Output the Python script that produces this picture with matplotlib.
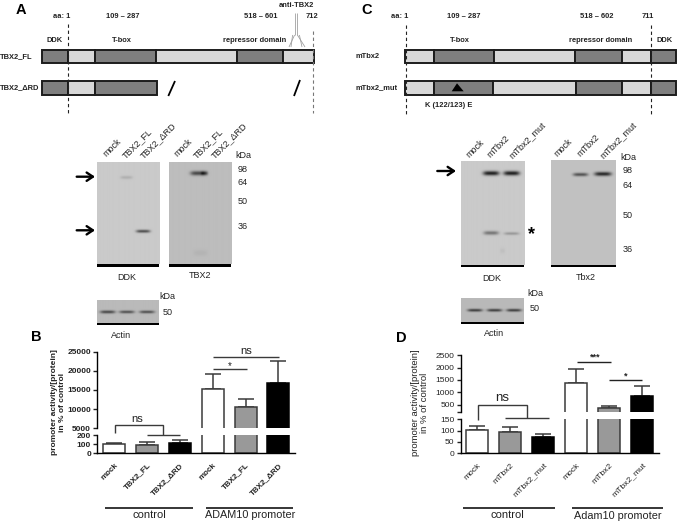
import numpy as np
import matplotlib
matplotlib.use("Agg")
import matplotlib.pyplot as plt
from matplotlib.patches import Rectangle, Polygon

W, H = 677, 522

# bar data, panel B
b_labels = ["mock", "TBX2_FL", "TBX2_\u0394RD", "mock", "TBX2_FL", "TBX2_\u0394RD"]
b_values = [100, 95, 110, 15200, 10500, 16700]
b_errors = [18, 27, 40, 3900, 2100, 6000]
b_ticks_top = [5000, 10000, 15000, 20000, 25000]
b_ticks_low = [0, 100, 200]

# bar data, panel D
d_labels = ["mock", "mTbx2", "mTbx2_mut", "mock", "mTbx2", "mTbx2_mut"]
d_values = [102, 95, 70, 1392, 350, 850]
d_errors = [18, 23, 14, 568, 95, 407]
d_ticks_top = [500, 1000, 1500, 2000, 2500]
d_ticks_low = [0, 50, 100, 150]

bar_colors = ["white", "#999999", "black", "white", "#999999", "black"]
bar_edges = ["#3a3a3a", "#3a3a3a", "black", "#3a3a3a", "#3a3a3a", "black"]

# domain maps: boundaries in px
a_fl_edges = [42.3, 67.7, 95.3, 156, 237.3, 283.3, 313.7]
a_rd_edges = [42.3, 67.7, 95.3, 156.7]
c_wt_edges = [405.3, 433.7, 494.3, 575.3, 621.7, 650.7, 675.7]
c_mut_edges = [405.3, 434.3, 493.3, 576, 622.3, 651, 675.7]

# blots: x0, x1, y0, y1, background
# bands: centre x, centre y, half width, half height, darkness
blot_ddk_a = (96.7, 159, 162.3, 264, 0.79)
bands_ddk_a = [(125.7, 177.5, 6, 1.6, 0.13), (142.3, 231.3, 7, 1.5, 0.62)]
blot_tbx_a = (169, 231.3, 162.3, 264, 0.74)
bands_tbx_a = [(198, 173.3, 8, 2.2, 0.62), (204, 173.3, 3.5, 2.0, 0.35), (200, 253, 7, 3, 0.05)]
blot_act_a = (97.3, 158.7, 300, 322.7, 0.73)
bands_act_a = [(107.7, 311.7, 7.5, 1.5, 0.62), (126.7, 311.7, 7.5, 1.4, 0.58), (146.7, 311.7, 7.5, 1.4, 0.58)]
blot_ddk_c = (461, 524.3, 161, 265, 0.79)
bands_ddk_c = [(490.7, 173, 8, 2.2, 0.85), (511, 173, 8, 2.2, 0.85), (490.7, 232.7, 7.5, 1.9, 0.42),
               (511, 233.3, 7.5, 1.4, 0.25), (502, 250.5, 2.5, 2.5, 0.05)]
blot_tbx_c = (551, 615.7, 160, 265, 0.76)
bands_tbx_c = [(580.3, 174.3, 7.5, 1.7, 0.58), (602.7, 173.7, 8.5, 2, 0.8)]
blot_act_c = (461, 524, 298, 321.7, 0.73)
bands_act_c = [(474.7, 310, 7.5, 1.4, 0.68), (494.3, 310, 7.5, 1.4, 0.68), (513.7, 310, 7.5, 1.4, 0.68)]

SANS = "Liberation Sans"
plt.rcParams["font.family"] = [SANS, "DejaVu Sans"]
TXT = "#222222"
BLOT_TXT = 6.5

fig = plt.figure(figsize=(W / 100, H / 100), dpi=100)
bg = fig.add_axes([0, 0, 1, 1])
bg.set_xlim(0, W)
bg.set_ylim(H, 0)
bg.axis("off")


def draw_map(y0, y1, edges, first_dark):
    dark = first_dark
    for i in range(len(edges) - 1):
        col = "#7f7f7f" if dark else "#d8d8d8"
        bg.add_patch(Rectangle((edges[i], y0), edges[i + 1] - edges[i], y1 - y0, fc=col, ec="#1c1c1c", lw=1.4))
        dark = not dark


def label(x, y, s, size=5.4, weight="bold", **kw):
    kw.setdefault("ha", "center")
    kw.setdefault("color", TXT)
    bg.text(x, y, s, fontsize=size, fontweight=weight, va="center", **kw)


def dash(x, y0, y1, col="#222222"):
    bg.plot([x, x], [y0, y1], color=col, lw=0.8, ls=(0, (3, 2.5)))


def draw_blot(box, bands, bar_h=2.6):
    x0, x1, y0, y1, level = box
    xs = np.arange(x0, x1, 0.5)
    ys = np.arange(y0, y1, 0.5)
    xx, yy = np.meshgrid(xs, ys)
    img = np.full(xx.shape, level)
    for cx, cy, hw, hh, d in bands:
        prof = np.exp(-((xx - cx) / hw) ** 4) * np.exp(-((yy - cy) / hh) ** 2)
        img = img - d * prof * level
    bg.imshow(img, extent=(x0, x1, y1, y0), cmap="gray", vmin=0, vmax=1, aspect="auto", interpolation="bilinear")
    bg.add_patch(Rectangle((x0, y1), x1 - x0, bar_h, fc="black", ec="none"))


def rot_label(x, y, s):
    bg.text(x, y, s, fontsize=6.5, rotation=45, rotation_mode="anchor", ha="left", va="center", color=TXT)


def arrow(x0, x1, y):
    bg.annotate("", xy=(x1, y), xytext=(x0, y),
                arrowprops=dict(arrowstyle="->,head_length=0.45,head_width=0.3", lw=1.7, color="black", shrinkA=0, shrinkB=0))


def seg(xs, ys, col="#3a3a3a", lw=1.0):
    bg.plot(xs, ys, color=col, lw=lw, solid_capstyle="butt", solid_joinstyle="miter")


# panel A
label(20.5, 9.5, "A", size=10.5, color="black", family="Liberation Sans")
label(61.3, 16.3, "aa: 1")
label(122.3, 16.3, "109 \u2013 287")
label(260.7, 16.3, "518 \u2013 601")
label(312, 16.3, "712")
label(296, 5.7, "anti-TBX2")
label(54.3, 40.5, "DDK")
label(122, 40, "T-box")
label(255, 40, "repressor domain")
label(0, 56.7, "TBX2_FL", ha="left")
label(0, 87.3, "TBX2_\u0394RD", ha="left")
draw_map(50, 63.3, a_fl_edges, True)
draw_map(80.7, 95, a_rd_edges, True)
dash(67.7, 24, 113)
dash(313, 31, 113, col="#777777")
seg([168.3, 175], [96, 81], col="black", lw=1.3)
seg([294, 300], [96, 80], col="black", lw=1.3)
# antibody
for dx in (-1.4, 1.4):
    seg([296 + dx, 296 + dx], [13, 35], col="#a0a0a0", lw=0.6)
seg([294.6, 289], [35, 47], col="#a0a0a0", lw=0.6)
seg([292.6, 291], [35, 47], col="#a0a0a0", lw=0.6)
seg([297.4, 305], [35, 47], col="#a0a0a0", lw=0.6)
seg([299.4, 302], [35, 47], col="#a0a0a0", lw=0.6)

# panel C
label(367, 10.5, "C", size=10.5, color="black")
label(399.3, 16.7, "aa: 1")
label(464, 16.7, "109 \u2013 287")
label(596.7, 16.7, "518 \u2013 602")
label(648, 16.7, "711")
label(460, 40, "T-box")
label(601, 40, "repressor domain")
label(664.7, 40.7, "DDK")
label(355.7, 56.7, "mTbx2", ha="left")
label(355.7, 87.3, "mTbx2_mut", ha="left")
draw_map(50, 62.7, c_wt_edges, False)
draw_map(81, 95, c_mut_edges, False)
dash(406, 25, 115)
dash(651.3, 25, 115)
bg.add_patch(Polygon([(451.7, 91.3), (463.7, 91.3), (457, 83.3)], fc="black", ec="none"))
label(448.7, 105.7, "K (122/123) E")

# blots A
draw_blot(blot_ddk_a, bands_ddk_a)
draw_blot(blot_tbx_a, bands_tbx_a)
draw_blot(blot_act_a, bands_act_a)
rot_label(105, 155.7, "mock")
rot_label(123.3, 157.3, "TBX2_FL")
rot_label(141.7, 157.3, "TBX2_\u0394RD")
rot_label(176, 155.7, "mock")
rot_label(194.3, 157.3, "TBX2_FL")
rot_label(212.7, 157.3, "TBX2_\u0394RD")
for y, s in [(155, "kDa"), (169, "98"), (182.3, "64"), (201.7, "50"), (226.7, "36")]:
    label(243, y, s, size=BLOT_TXT, weight="normal")
arrow(76.7, 95, 176.7)
arrow(76.7, 95, 230.3)
label(126.7, 277.3, "DDK", size=BLOT_TXT, weight="normal")
label(200, 275.7, "TBX2", size=BLOT_TXT, weight="normal")
label(167.3, 296.7, "kDa", size=BLOT_TXT, weight="normal")
label(167.3, 312.7, "50", size=BLOT_TXT, weight="normal")
label(121, 335, "Actin", size=BLOT_TXT, weight="normal")

# blots C
draw_blot(blot_ddk_c, bands_ddk_c, bar_h=2.4)
draw_blot(blot_tbx_c, bands_tbx_c, bar_h=2.4)
draw_blot(blot_act_c, bands_act_c, bar_h=2.4)
rot_label(467.7, 156.7, "mock")
rot_label(488.3, 156.7, "mTbx2")
rot_label(510, 157.3, "mTbx2_mut")
rot_label(555.7, 155, "mock")
rot_label(579, 155.7, "mTbx2")
rot_label(601, 156.7, "mTbx2_mut")
for y, s in [(157.7, "kDa"), (170.7, "98"), (185.3, "64"), (215.7, "50"), (249.3, "36")]:
    label(628, y, s, size=BLOT_TXT, weight="normal")
arrow(437.3, 456, 171)
label(531.3, 235, "*", size=13, color="black")
label(491.7, 278.3, "DDK", size=BLOT_TXT, weight="normal")
label(585.3, 277, "Tbx2", size=BLOT_TXT, weight="normal")
label(535.7, 293.7, "kDa", size=BLOT_TXT, weight="normal")
label(534.7, 308.7, "50", size=BLOT_TXT, weight="normal")
label(493.7, 334, "Actin", size=BLOT_TXT, weight="normal")

bg.set_xlim(0, W)
bg.set_ylim(H, 0)


def px_axes(x0, y0, x1, y1):
    ax = fig.add_axes([x0 / W, 1 - y1 / H, (x1 - x0) / W, (y1 - y0) / H])
    ax.patch.set_alpha(0)
    return ax


def broken_bars(x0, x1, y_top0, y_top1, y_low0, y_low1, xlim, xpos, vals, errs, labels,
                top_lim, low_lim, top_ticks, low_ticks, weight, xsize, break_tick=None):
    top = px_axes(x0, y_top0, x1, y_top1)
    low = px_axes(x0, y_low0, x1, y_low1)
    for ax in (top, low):
        ax.bar(xpos, vals, width=0.67, color=bar_colors, edgecolor=bar_edges, linewidth=1.1, zorder=2)
        ax.errorbar(xpos, vals, yerr=[np.zeros(len(errs)), errs], fmt="none", ecolor="#3a3a3a",
                    elinewidth=1.1, capsize=5.5, capthick=1.1, zorder=1)
        ax.set_xlim(*xlim)
        for s in ("top", "right"):
            ax.spines[s].set_visible(False)
        ax.spines["left"].set_linewidth(1.0)
        ax.spines["bottom"].set_linewidth(1.0)
        ax.tick_params(axis="y", length=3, width=1.0, pad=1.5, labelsize=6.0, colors="#222222")
    top.set_ylim(*top_lim)
    low.set_ylim(*low_lim)
    top.spines["bottom"].set_visible(False)
    top.set_xticks([])
    tt = list(top_ticks)
    tl = [str(t) for t in top_ticks]
    if break_tick is not None:
        tt = [break_tick] + tt
        tl = [""] + tl
    top.set_yticks(tt, tl)
    low.set_yticks(low_ticks)
    low.set_xticks(xpos)
    low.set_xticklabels(labels, rotation=45, ha="right", rotation_mode="anchor", fontsize=xsize, fontweight=weight)
    low.tick_params(axis="x", length=0, pad=6, colors="#222222")
    for t in top.get_yticklabels() + low.get_yticklabels():
        t.set_fontweight(weight)


# panel B
pos_b = [0, 1, 2, 3.02, 4.02, 5.02]
broken_bars(97.3, 295, 351.7, 428.3, 435, 453.3, (-0.52, 5.53), pos_b, b_values, b_errors, b_labels,
            (5000, 25000), (0, 200), b_ticks_top, b_ticks_low, "bold", 5.8)
label(36, 337, "B", size=10.5, color="black")
bg.text(58.5, 402, "promoter activity/[protein]\nin % of control", rotation=90, fontsize=6.0, fontweight="bold",
        ha="center", va="center", color=TXT, linespacing=1.25)
seg([114.7, 114.7, 162.7, 162.7], [433.3, 424.7, 424.7, 434.7])
seg([146.7, 179.7], [434.7, 434.7])
label(137, 419, "ns", size=8.0, weight="normal")
seg([212.7, 279.3], [356.7, 356.7])
label(246, 351, "ns", size=8.0, weight="normal")
seg([212.7, 247.3], [368.7, 368.7])
label(229.3, 366, "*", size=7, weight="normal")
seg([105.3, 192.7], [508, 508], col="black", lw=1.1)
seg([206, 293.3], [508, 508], col="black", lw=1.1)
label(149.7, 515.5, "control", size=8.0, weight="normal")
label(250, 515.5, "ADAM10 promoter", size=7.8, weight="normal")

# panel D
pos_d = [0, 1, 2, 3, 4, 5]
broken_bars(460.7, 659.3, 355.3, 411.7, 419.3, 453.3, (-0.505, 5.515), pos_d, d_values, d_errors, d_labels,
            (216, 2500), (0, 150), d_ticks_top, d_ticks_low, "normal", 6.1, break_tick=216)
label(401, 338, "D", size=10.5, color="black")
bg.text(420, 403, "promoter activity/[protein]\nin % of control", rotation=90, fontsize=6.8,
        ha="center", va="center", color=TXT, linespacing=1.1)
seg([478, 478, 527, 527], [420, 405, 405, 418.3])
seg([505, 549], [418.3, 418.3])
label(502.3, 398, "ns", size=9.5, weight="normal")
seg([577.3, 611.3], [361.7, 361.7], col="#222222")
label(594.7, 357.5, "***", size=6.5, weight="bold")
seg([609, 642], [379.7, 379.7], col="#222222")
label(625.7, 376.5, "*", size=6.5, weight="bold")
seg([463.3, 554.7], [508.3, 508.3], col="black", lw=1.1)
seg([571.7, 662.7], [508.3, 508.3], col="black", lw=1.1)
label(507.7, 515.5, "control", size=8.0, weight="normal")
label(617.7, 516, "Adam10 promoter", size=7.8, weight="normal")

fig.savefig("out.png", dpi=100)
